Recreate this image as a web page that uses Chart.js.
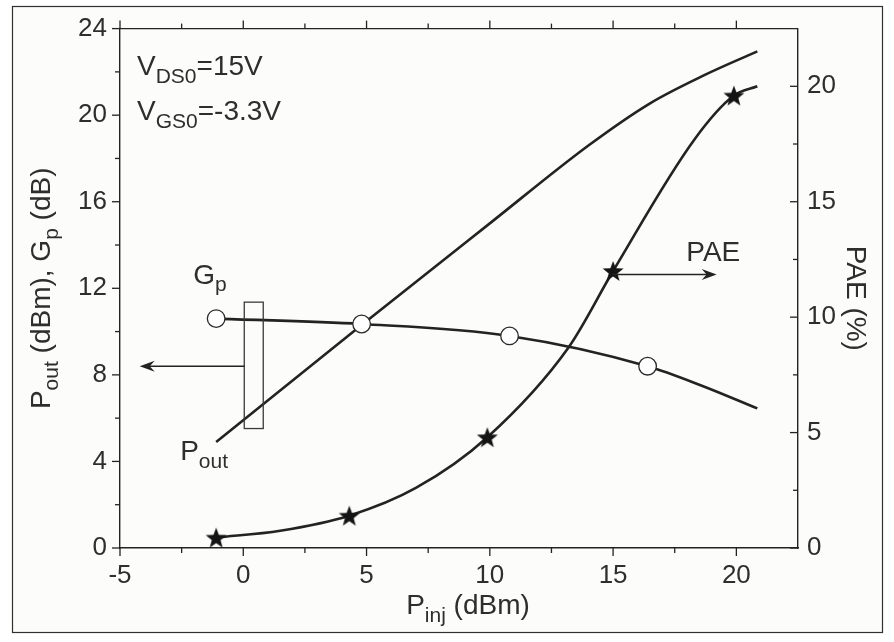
<!DOCTYPE html>
<html><head><meta charset="utf-8">
<script src="https://cdn.jsdelivr.net/npm/chart.js@4/dist/chart.umd.min.js"></script>
<style>html,body{margin:0;padding:0;background:#fff;}#wrap{width:894px;height:642px;position:relative;}</style>
</head><body><div id="wrap"><canvas id="c" width="894" height="642"></canvas></div>
<script>
// ---- data ----
const xTicks = [-5, 0, 5, 10, 15, 20];
const yLeftTicks = [0, 4, 8, 12, 16, 20, 24];
const yRightTicks = [0, 5, 10, 15, 20];

const poutX = [-1.1, 4.8, 10, 14, 16.5, 18.7, 20.85];
const poutY = [4.9, 10.3, 15.0, 18.6, 20.55, 21.85, 22.95];

const gpX = [-1.1, 4.8, 10.8, 16.4, 18.6, 20.85];
const gpY = [10.6, 10.35, 9.8, 8.4, 7.5, 6.45];
const gpMarker = [true, true, true, true, false, false];

const paeX = [-1.1, 1.5, 4.3, 7.0, 9.9, 13.2, 15.0, 18.3, 19.9, 20.85];
const paeY = [0.45, 0.75, 1.4, 2.6, 4.8, 8.7, 12.0, 17.7, 19.6, 20.0];
const paeMarker = [true, false, true, false, true, false, true, false, true, false];

// ---- styling ----
const INK = '#232323';
const TXT = '#2e2e2e';
const FAM = '"Liberation Sans", Arial, Helvetica, sans-serif';
const TICK_SIZE = 26;
const LAB_SIZE = 28;

function makeStar(r1, r2, color) {
  const s = Math.ceil(r1 * 2 + 2);
  const c = document.createElement('canvas'); c.width = s; c.height = s;
  const g = c.getContext('2d');
  g.translate(s / 2, s / 2 + 1);
  g.beginPath();
  for (let i = 0; i < 10; i++) {
    const r = i % 2 ? r2 : r1;
    const a = -Math.PI / 2 + i * Math.PI / 5;
    g.lineTo(r * Math.cos(a), r * Math.sin(a));
  }
  g.closePath(); g.fillStyle = color; g.fill();
  return c;
}
const starImg = makeStar(11, 4.6, '#141414');

function pts(xs, ys) { return xs.map((x, i) => ({ x: x, y: ys[i] })); }

function richWidth(ctx, parts, size) {
  let w = 0;
  for (const [t, sub] of parts) { ctx.font = (sub ? size * 0.75 : size) + 'px ' + FAM; w += ctx.measureText(t).width; }
  return w;
}
function drawRich(ctx, parts, x, y, size, align) {
  const w = richWidth(ctx, parts, size);
  let cx = align === 'center' ? x - w / 2 : x;
  ctx.textAlign = 'left'; ctx.textBaseline = 'alphabetic'; ctx.fillStyle = TXT;
  for (const [t, sub] of parts) {
    ctx.font = (sub ? size * 0.75 : size) + 'px ' + FAM;
    ctx.fillText(t, cx, sub ? y + size * 0.28 : y);
    cx += ctx.measureText(t).width;
  }
}
function arrowHead(ctx, x, y, dir) { // dir: -1 left, +1 right
  const L = 15, H = 5.5, N = 5;
  ctx.beginPath();
  ctx.moveTo(x, y);
  ctx.lineTo(x - dir * L, y - H);
  ctx.lineTo(x - dir * (L - N), y);
  ctx.lineTo(x - dir * L, y + H);
  ctx.closePath(); ctx.fillStyle = INK; ctx.fill();
}

const framePlugin = {
  id: 'frame',
  beforeDraw(chart) {
    const ctx = chart.ctx;
    ctx.save();
    ctx.fillStyle = '#ffffff'; ctx.fillRect(0, 0, chart.width, chart.height);
    ctx.fillStyle = '#fcfcfb'; ctx.fillRect(13, 7, 869, 625);
    ctx.strokeStyle = '#303030'; ctx.lineWidth = 1.2;
    ctx.strokeRect(12.5, 6.5, 870, 626);
    ctx.restore();
  }
};

const axesPlugin = {
  id: 'axesDeco',
  afterDraw(chart) {
    const ctx = chart.ctx, a = chart.chartArea;
    const xs = chart.scales.x, yl = chart.scales.y, yr = chart.scales.y1;
    ctx.save();
    ctx.strokeStyle = INK; ctx.lineWidth = 1.4;
    ctx.beginPath(); ctx.moveTo(a.left, a.top); ctx.lineTo(a.right, a.top); ctx.stroke();
    const MAJ = 8, MIN = 5;
    ctx.lineWidth = 1.3;
    const line = (x1, y1, x2, y2) => { ctx.beginPath(); ctx.moveTo(x1, y1); ctx.lineTo(x2, y2); ctx.stroke(); };
    xTicks.forEach(v => {
      const px = xs.getPixelForValue(v);
      line(px, a.bottom, px, a.bottom + MAJ);
      line(px, a.top, px, a.top - MAJ);
      const m = v + (xTicks[1] - xTicks[0]) / 2;
      if (m < xs.max) {
        const pm = xs.getPixelForValue(m);
        line(pm, a.bottom, pm, a.bottom + MIN);
        line(pm, a.top, pm, a.top - MIN);
      }
    });
    yLeftTicks.forEach(v => {
      const py = yl.getPixelForValue(v);
      line(a.left, py, a.left - MAJ, py);
      const m = v + (yLeftTicks[1] - yLeftTicks[0]) / 2;
      if (m < yl.max) { const pm = yl.getPixelForValue(m); line(a.left, pm, a.left - MIN, pm); }
    });
    yRightTicks.forEach(v => {
      const py = yr.getPixelForValue(v);
      line(a.right, py, a.right - MAJ, py);
      const m = v + (yRightTicks[1] - yRightTicks[0]) / 2;
      if (m < yr.max) { const pm = yr.getPixelForValue(m); line(a.right, pm, a.right - MIN, pm); }
    });

    drawRich(ctx, [['P', false], ['inj', true], [' (dBm)', false]], (a.left + a.right) / 2 + 9, 614, LAB_SIZE, 'center');
    ctx.save();
    ctx.translate(50, (a.top + a.bottom) / 2);
    ctx.rotate(-Math.PI / 2);
    drawRich(ctx, [['P', false], ['out', true], [' (dBm), G', false], ['p', true], [' (dB)', false]], 0, 0, LAB_SIZE, 'center');
    ctx.restore();
    ctx.save();
    ctx.translate(847, (a.top + a.bottom) / 2 + 10);
    ctx.rotate(Math.PI / 2);
    drawRich(ctx, [['PAE (%)', false]], 0, 0, LAB_SIZE, 'center');
    ctx.restore();
    ctx.restore();
  }
};

const annoPlugin = {
  id: 'anno',
  afterDatasetsDraw(chart) {
    const ctx = chart.ctx;
    const xs = chart.scales.x, yl = chart.scales.y, yr = chart.scales.y1;
    const X = v => xs.getPixelForValue(v), YL = v => yl.getPixelForValue(v), YR = v => yr.getPixelForValue(v);
    ctx.save();
    ctx.strokeStyle = '#3a3a3a'; ctx.lineWidth = 1.3;
    ctx.strokeRect(X(0.04), YL(11.36), X(0.81) - X(0.04), YL(5.52) - YL(11.36));
    ctx.strokeStyle = INK; ctx.lineWidth = 1.6;
    ctx.beginPath(); ctx.moveTo(X(0.04), YL(8.4)); ctx.lineTo(X(-4.2) + 6, YL(8.4)); ctx.stroke();
    arrowHead(ctx, X(-4.2), YL(8.4), -1);
    ctx.beginPath(); ctx.moveTo(X(15.0), YR(11.85)); ctx.lineTo(X(19.2) - 6, YR(11.85)); ctx.stroke();
    arrowHead(ctx, X(19.2), YR(11.85), 1);
    drawRich(ctx, [['V', false], ['DS0', true], ['=15V', false]], X(-4.31), YL(21.84), LAB_SIZE, 'left');
    drawRich(ctx, [['V', false], ['GS0', true], ['=-3.3V', false]], X(-4.31), YL(19.77), LAB_SIZE, 'left');
    drawRich(ctx, [['G', false], ['p', true]], X(-2.03), YL(12.22), LAB_SIZE, 'left');
    drawRich(ctx, [['P', false], ['out', true]], X(-2.56), YL(4.05), LAB_SIZE, 'left');
    drawRich(ctx, [['PAE', false]], X(17.97), YR(12.44), LAB_SIZE, 'left');
    ctx.restore();
  }
};

const common = {
  borderColor: INK, borderWidth: 2.6, fill: false,
  cubicInterpolationMode: 'monotone', clip: false
};

new Chart(document.getElementById('c'), {
  type: 'line',
  data: {
    datasets: [
      Object.assign({}, common, {
        label: 'Gp', yAxisID: 'y', data: pts(gpX, gpY),
        pointStyle: 'circle',
        pointRadius: gpMarker.map(m => m ? 8.8 : 0),
        pointBackgroundColor: '#ffffff', pointBorderColor: '#2a2a2a', pointBorderWidth: 1.3
      }),
      Object.assign({}, common, {
        label: 'PAE', yAxisID: 'y1', data: pts(paeX, paeY),
        pointStyle: starImg,
        pointRadius: paeMarker.map(m => m ? 10 : 0)
      }),
      Object.assign({}, common, {
        label: 'Pout', yAxisID: 'y', data: pts(poutX, poutY), pointRadius: 0
      })
    ]
  },
  options: {
    responsive: false, animation: false, events: [],
    layout: { padding: 0 },
    plugins: { legend: { display: false }, tooltip: { enabled: false } },
    scales: {
      x: {
        type: 'linear', position: 'bottom', min: -5, max: 22.5,
        afterFit: s => { s.height = 94; },
        afterBuildTicks: s => { s.ticks = xTicks.map(v => ({ value: v })); },
        grid: { display: false, drawTicks: false },
        border: { display: true, color: INK, width: 1.4 },
        ticks: { padding: 12, color: TXT, font: { family: FAM, size: TICK_SIZE }, maxRotation: 0, autoSkip: false }
      },
      y: {
        type: 'linear', position: 'left', min: 0, max: 24,
        afterFit: s => { s.width = 120; },
        afterBuildTicks: s => { s.ticks = yLeftTicks.map(v => ({ value: v })); },
        grid: { display: false, drawTicks: false },
        border: { display: true, color: INK, width: 1.4 },
        ticks: { padding: 13, color: TXT, font: { family: FAM, size: TICK_SIZE }, autoSkip: false }
      },
      y1: {
        type: 'linear', position: 'right', min: 0, max: 22.5,
        afterFit: s => { s.width = 96; },
        afterBuildTicks: s => { s.ticks = yRightTicks.map(v => ({ value: v })); },
        grid: { display: false, drawTicks: false },
        border: { display: true, color: INK, width: 1.4 },
        ticks: { padding: 9, color: TXT, font: { family: FAM, size: TICK_SIZE }, autoSkip: false }
      }
    }
  },
  plugins: [framePlugin, axesPlugin, annoPlugin]
});
</script>
</body></html>
